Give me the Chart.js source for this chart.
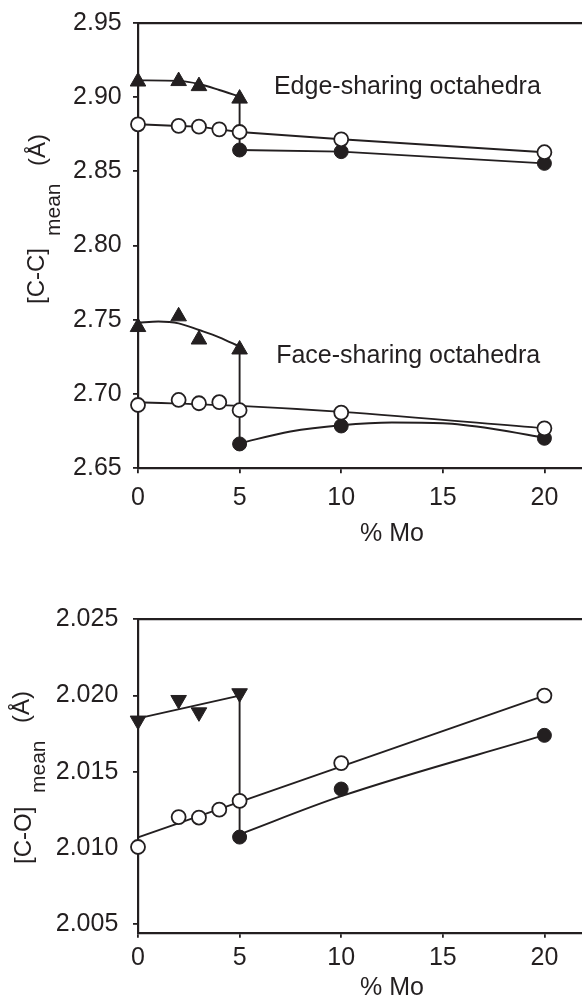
<!DOCTYPE html>
<html><head><meta charset="utf-8">
<script src="https://cdn.jsdelivr.net/npm/chart.js@4.4.1/dist/chart.umd.min.js"></script>
<style>
html,body{margin:0;padding:0;background:#fff;width:582px;height:999px;overflow:hidden;position:relative;}
#c1{position:absolute;left:0;top:0;}
#c2{position:absolute;left:0;top:540px;}
</style></head><body>
<canvas id="c1" width="646" height="560"></canvas>
<canvas id="c2" width="646" height="480"></canvas>
<script>
// ---------- data ----------
const xTicks = [0, 5, 10, 15, 20];
const yTicksTop = [2.65, 2.70, 2.75, 2.80, 2.85, 2.90, 2.95];
const yTicksBottom = [2.005, 2.010, 2.015, 2.020, 2.025];

// top panel: edge-sharing octahedra
const edgeTriX = [0, 2, 3, 5];
const edgeTri = [2.9104, 2.9107, 2.9073, 2.8989];
const edgeTriFitX = [0, 2, 3, 4, 5];
const edgeTriFit = [2.9112, 2.9108, 2.9087, 2.9047, 2.9002];
const edgeOpenX = [0, 2, 3, 4, 5, 10, 20];
const edgeOpen = [2.8816, 2.8805, 2.8800, 2.8782, 2.8764, 2.8715, 2.8628];
const edgeFilledX = [5, 10, 20];
const edgeFilled = [2.8643, 2.8632, 2.8553];

// top panel: face-sharing octahedra
const faceTriX = [0, 2, 3, 5];
const faceTri = [2.7451, 2.7523, 2.7367, 2.7300];
const faceTriFitX = [0, 1, 2, 3, 4, 5];
const faceTriFit = [2.7480, 2.7488, 2.7476, 2.7431, 2.7382, 2.7319];
const faceOpenX = [0, 2, 3, 4, 5, 10, 20];
const faceOpen = [2.6926, 2.6960, 2.6938, 2.6945, 2.6891, 2.6875, 2.6769];
const faceOpenFitX = [0, 5, 10, 20];
const faceOpenFit = [2.6945, 2.6920, 2.6880, 2.6770];
const faceFilledX = [5, 10, 20];
const faceFilled = [2.6664, 2.6785, 2.6702];
const faceFilledFitX = [5, 7.5, 10, 12.5, 15, 17.5, 20];
const faceFilledFit = [2.6668, 2.6748, 2.6790, 2.6808, 2.6803, 2.6765, 2.6705];

// bottom panel: [C-O] mean
const coTriX = [0, 2, 3, 5];
const coTri = [2.01836, 2.01971, 2.0189, 2.02015];
const coTriFitX = [0, 5];
const coTriFit = [2.0185, 2.0200];
const coOpenX = [0, 2, 3, 4, 5, 10, 20];
const coOpen = [2.01007, 2.01203, 2.0120, 2.01252, 2.01309, 2.01557, 2.0200];
const coOpenFitX = [0, 20];
const coOpenFit = [2.0107, 2.0200];
const coFilledX = [5, 10, 20];
const coFilled = [2.01072, 2.01387, 2.01739];
const coFilledFitX = [5, 10, 20];
const coFilledFit = [2.0109, 2.0134, 2.0174];

// ---------- helpers ----------
const INK = '#231f20';
const FAMILY = '"Liberation Sans", Arial, Helvetica, sans-serif';
Chart.defaults.font.family = FAMILY;
Chart.defaults.color = INK;

function pts(xs, ys) { return xs.map((x, i) => ({x: x, y: ys[i]})); }
function openCircles(xs, ys) {
  return {data: pts(xs, ys), showLine: false, pointStyle: 'circle', pointRadius: 7, pointHoverRadius: 7,
    backgroundColor: '#ffffff', borderColor: INK, pointBorderWidth: 1.8, order: 0, clip: false};
}
function filledCircles(xs, ys) {
  return {data: pts(xs, ys), showLine: false, pointStyle: 'circle', pointRadius: 7, pointHoverRadius: 7,
    backgroundColor: INK, borderColor: INK, pointBorderWidth: 1, order: 0, clip: false};
}
function triangles(xs, ys, rot) {
  return {data: pts(xs, ys), showLine: false, pointStyle: 'triangle', pointRadius: 9, pointHoverRadius: 9,
    pointRotation: rot, backgroundColor: INK, borderColor: INK, pointBorderWidth: 1, order: 0, clip: false};
}
function line(xs, ys, tension) {
  return {data: pts(xs, ys), showLine: true, pointRadius: 0, pointHoverRadius: 0, borderColor: INK,
    borderWidth: 1.9, tension: tension, cubicInterpolationMode: tension > 0 ? 'monotone' : 'default',
    fill: false, order: 1, clip: false};
}

const textPlugin = {
  id: 'texts',
  afterDraw(chart, args, opts) {
    const ctx = chart.ctx;
    ctx.save();
    ctx.fillStyle = INK;
    ctx.textAlign = 'left';
    ctx.textBaseline = 'alphabetic';
    (opts.notes || []).forEach(n => {
      ctx.font = n.size + 'px ' + FAMILY;
      ctx.fillText(n.text, chart.scales.x.getPixelForValue(n.x), chart.scales.y.getPixelForValue(n.y));
    });
    (opts.yTitle || []).forEach(p => {
      ctx.save();
      ctx.translate(p.bx, p.y0);
      ctx.rotate(-Math.PI / 2);
      ctx.font = p.size + 'px ' + FAMILY;
      ctx.fillText(p.text, 0, 0);
      ctx.restore();
    });
    ctx.restore();
  }
};

function makeScales(o) {
  return {
    x: {type: 'linear', position: 'bottom', min: 0, max: 25,
      afterBuildTicks: s => { s.ticks = xTicks.map(v => ({value: v})); },
      afterFit: s => { s.height = o.xHeight; s.paddingLeft = 0; s.paddingRight = 0; },
      grid: {drawOnChartArea: false, drawTicks: true, tickLength: 5, color: INK, lineWidth: 1.8},
      border: {display: true, color: INK, width: 2.2},
      ticks: {font: {size: 25}, color: INK, padding: o.xPad, maxRotation: 0, autoSkip: false},
      title: {display: true, text: '% Mo', font: {size: 25}, color: INK, padding: {top: 0, bottom: o.titlePad}}
    },
    x2: {type: 'linear', position: 'top', min: 0, max: 25,
      ticks: {display: false}, grid: {drawOnChartArea: false, drawTicks: false},
      border: {display: true, color: INK, width: 2.2},
      afterFit: s => { s.height = 0; s.paddingLeft = 0; s.paddingRight = 0; }
    },
    y: {type: 'linear', position: 'left', min: o.yMin, max: o.yMax,
      afterBuildTicks: s => { s.ticks = o.yTicks.map(v => ({value: v})); },
      afterFit: s => { s.width = 138; s.paddingTop = 0; s.paddingBottom = 0; },
      grid: {drawOnChartArea: false, drawTicks: true, tickLength: 5, color: INK, lineWidth: 1.8},
      border: {display: true, color: INK, width: 2.2},
      ticks: {font: {size: 25}, color: INK, padding: o.yPad, autoSkip: false,
        callback: v => Number(v).toFixed(o.dec)}
    }
  };
}

// ---------- top chart ----------
new Chart(document.getElementById('c1'), {
  type: 'scatter',
  data: {datasets: [
    triangles(edgeTriX, edgeTri, 0),
    openCircles(edgeOpenX, edgeOpen),
    filledCircles(edgeFilledX, edgeFilled),
    triangles(faceTriX, faceTri, 0),
    openCircles(faceOpenX, faceOpen),
    filledCircles(faceFilledX, faceFilled),
    line(edgeTriFitX, edgeTriFit, 0.4),
    line(edgeOpenX, edgeOpen, 0),
    line(edgeFilledX, edgeFilled, 0),
    line([5, 5], [edgeTri[3], edgeFilled[0]], 0),
    line(faceTriFitX, faceTriFit, 0.4),
    line(faceOpenFitX, faceOpenFit, 0.4),
    line(faceFilledFitX, faceFilledFit, 0.4),
    line([5, 5], [faceTri[3], faceFilled[0]], 0)
  ]},
  options: {
    responsive: false, animation: false, devicePixelRatio: 1, events: [],
    layout: {autoPadding: false, padding: {top: 22.7, left: 0, right: 0, bottom: 0}},
    plugins: {legend: {display: false}, tooltip: {enabled: false},
      texts: {
        notes: [
          {text: 'Edge-sharing octahedra', x: 6.69, y: 2.9023, size: 25},
          {text: 'Face-sharing octahedra', x: 6.80, y: 2.7206, size: 25}
        ],
        yTitle: [
          {text: '[C-C]', size: 24, bx: 44, y0: 304},
          {text: 'mean', size: 21, bx: 60, y0: 236},
          {text: '(Å)', size: 24, bx: 45, y0: 166}
        ]
      }
    },
    scales: makeScales({xHeight: 91.7, xPad: 10.2, titlePad: 11.2, yMin: 2.65, yMax: 2.95,
      yTicks: yTicksTop, yPad: 11.3, dec: 2})
  },
  plugins: [textPlugin]
});

// ---------- bottom chart ----------
new Chart(document.getElementById('c2'), {
  type: 'scatter',
  data: {datasets: [
    triangles(coTriX, coTri, 180),
    openCircles(coOpenX, coOpen),
    filledCircles(coFilledX, coFilled),
    line(coTriFitX, coTriFit, 0),
    line(coOpenFitX, coOpenFit, 0),
    line(coFilledFitX, coFilledFit, 0.4),
    line([5, 5], [coTri[3], coFilled[0]], 0)
  ]},
  options: {
    responsive: false, animation: false, devicePixelRatio: 1, events: [],
    layout: {autoPadding: false, padding: {top: 79.3, left: 0, right: 0, bottom: 0}},
    plugins: {legend: {display: false}, tooltip: {enabled: false},
      texts: {
        yTitle: [
          {text: '[C-O]', size: 24, bx: 31, y0: 324},
          {text: 'mean', size: 21, bx: 45, y0: 253},
          {text: '(Å)', size: 24, bx: 29, y0: 183}
        ]
      }
    },
    scales: makeScales({xHeight: 87.3, xPad: 5.6, titlePad: 16.7, yMin: 2.00445, yMax: 2.025,
      yTicks: yTicksBottom, yPad: 14.7, dec: 3})
  },
  plugins: [textPlugin]
});
</script>
</body></html>
